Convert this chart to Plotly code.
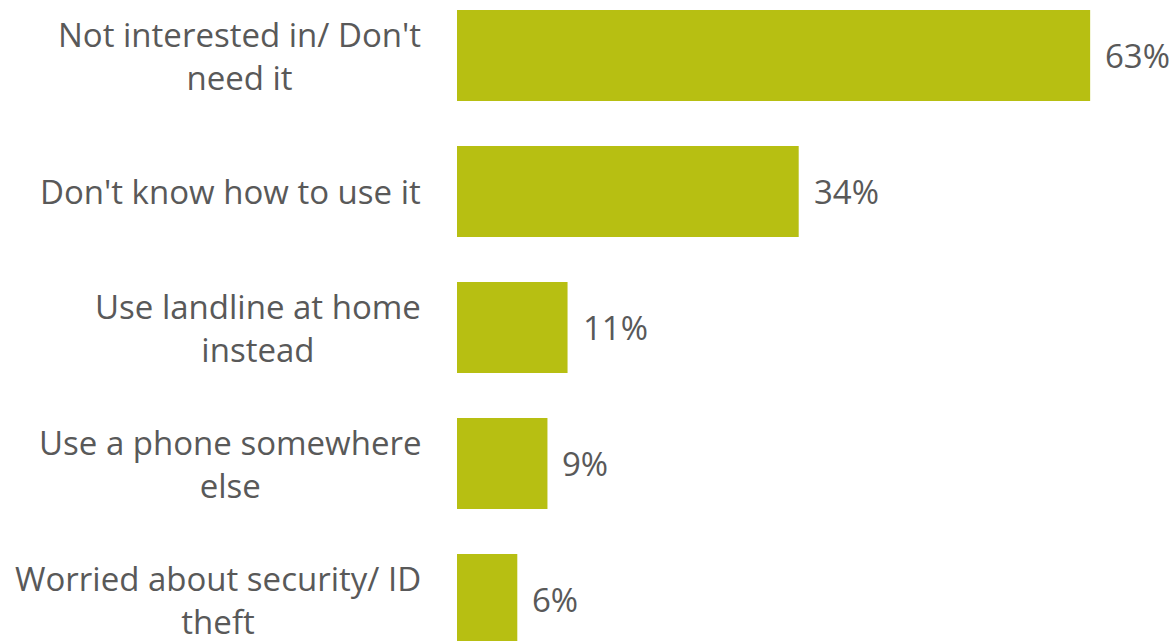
import plotly.graph_objects as go

# Reasons for not using the item, share of respondents (%)
reasons = [
    "Not interested in/ Don't<br>need it",
    "Don't know how to use it",
    "Use landline at home<br>instead",
    "Use a phone somewhere<br>else",
    "Worried about security/ ID<br>theft",
]
shares = [63, 34, 11, 9, 6]

BAR_COLOR = "#B7BF12"
TEXT_COLOR = "#595959"
FONT = "Open Sans"
FONT_SIZE = 33

fig = go.Figure(
    go.Bar(
        x=shares,
        y=list(range(len(reasons))),
        orientation="h",
        width=0.67,
        marker=dict(color=BAR_COLOR, line=dict(width=0)),
        hoverinfo="skip",
    )
)

annotations = []
for i, (label, v) in enumerate(zip(reasons, shares)):
    # category label, right-aligned beside the axis
    annotations.append(dict(
        x=0, y=i, xref="x", yref="y", text=label, showarrow=False,
        xanchor="right", yanchor="middle", align="center", xshift=-34,
        font=dict(family=FONT, size=FONT_SIZE, color=TEXT_COLOR),
    ))
    # value label just past the bar end
    annotations.append(dict(
        x=v, y=i, xref="x", yref="y", text=f"{v}%", showarrow=False,
        xanchor="left", yanchor="middle", xshift=13,
        font=dict(family=FONT, size=FONT_SIZE, color=TEXT_COLOR),
    ))

fig.update_layout(
    width=1176, height=641,
    margin=dict(l=457, r=0, t=0, b=0),
    paper_bgcolor="white", plot_bgcolor="white",
    showlegend=False,
    xaxis=dict(range=[0, 719 / 10.05], visible=False, fixedrange=True),
    yaxis=dict(range=[(641 - 55.5) / 136, -55.5 / 136], visible=False, fixedrange=True),
    annotations=annotations,
)

fig.write_html("out.html")
